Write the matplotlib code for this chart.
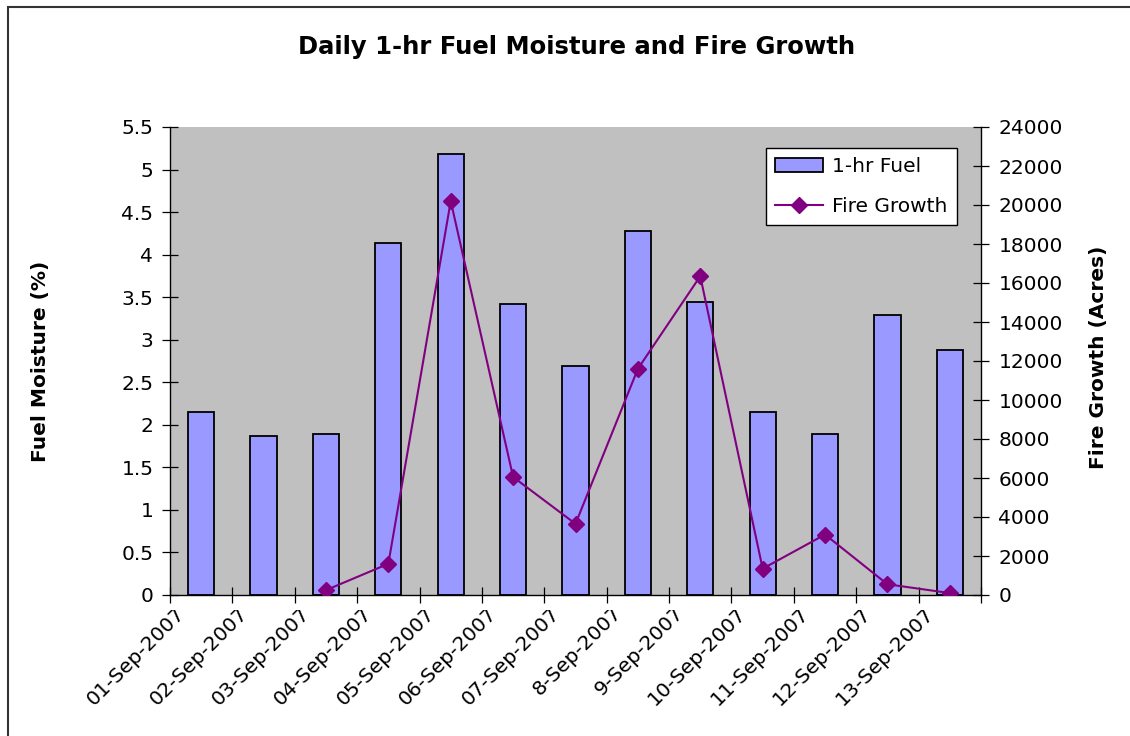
import numpy as np
import matplotlib
matplotlib.use("Agg")
import matplotlib.pyplot as plt
from matplotlib.patches import Rectangle
from matplotlib.transforms import ScaledTranslation, Bbox, TransformedBbox

dates = ["01-Sep-2007", "02-Sep-2007", "03-Sep-2007", "04-Sep-2007", "05-Sep-2007",
         "06-Sep-2007", "07-Sep-2007", "8-Sep-2007", "9-Sep-2007", "10-Sep-2007",
         "11-Sep-2007", "12-Sep-2007", "13-Sep-2007"]
fuel_moisture = [2.15, 1.87, 1.89, 4.14, 5.18, 3.42, 2.69, 4.28, 3.44, 2.15, 1.89, 3.29, 2.88]
fire_growth = [np.nan, np.nan, 250, 1600, 20200, 6050, 3650, 11600, 16350, 1350, 3100, 550, 100]
left_ticks = [0, 0.5, 1, 1.5, 2, 2.5, 3, 3.5, 4, 4.5, 5, 5.5]
left_tick_labels = ["0", "0.5", "1", "1.5", "2", "2.5", "3", "3.5", "4", "4.5", "5", "5.5"]
right_ticks = list(range(0, 24001, 2000))

plt.rcParams['font.family'] = ['DejaVu Sans']
FS = 14.5

W, H = 1130, 736
fig = plt.figure(figsize=(W / 100, H / 100), dpi=100)
fig.patch.set_facecolor("white")

ax = fig.add_axes([170 / W, 1 - 595 / H, 811 / W, 468 / H])
ax.set_facecolor("#C0C0C0")
x = np.arange(len(dates))
bars = ax.bar(x, fuel_moisture, width=0.42, color="#9999FF", edgecolor="black",
              linewidth=1.3, label="1-hr Fuel", zorder=2)
ax.set_xlim(-0.5, len(dates) - 0.5)
ax.set_ylim(0, 5.5)
ax.set_yticks(left_ticks)
ax.set_yticklabels(left_tick_labels)
ax.tick_params(axis="y", direction="inout", length=11, width=0.9, labelsize=FS, pad=6.5)

# x ticks: boundaries (major) and labels at category centers (minor)
ax.set_xticks(np.arange(-0.5, len(dates), 1.0))
ax.set_xticklabels([])
ax.set_xticks(x, minor=True)
ax.set_xticklabels(dates, minor=True, rotation=45, ha="right", va="top",
                   rotation_mode="anchor", fontsize=FS)
ax.tick_params(axis="x", which="major", direction="inout", length=11, width=0.9)
ax.tick_params(axis="x", which="minor", length=0, pad=6.0)

offset = ScaledTranslation(-26 / 100, 0, fig.dpi_scale_trans)
clipbox = TransformedBbox(Bbox.from_extents(0, 0, 1, 1 - 610 / H), fig.transFigure)
for lab in ax.get_xticklabels(minor=True):
    lab.set_transform(lab.get_transform() + offset)
    lab.set_clip_on(True)
    lab.set_clip_box(clipbox)

for s in ["top", "right"]:
    ax.spines[s].set_visible(False)
ax.spines["left"].set_linewidth(1.0)
ax.spines["bottom"].set_linewidth(1.0)

ax.set_ylabel("Fuel Moisture (%)", fontsize=FS, fontweight="bold", va="center")
ax.yaxis.set_label_coords(-0.160, 0.5)

ax2 = ax.twinx()
ax2.set_facecolor("none")
line, = ax2.plot(x, fire_growth, color="#800080", linewidth=1.5, marker="D",
                 markersize=8, markerfacecolor="#800080", markeredgecolor="#800080",
                 label="Fire Growth", zorder=3)
ax2.set_ylim(0, 24000)
ax2.set_yticks(right_ticks)
ax2.tick_params(axis="y", direction="inout", length=11, width=0.9, labelsize=FS, pad=7)
for s in ["top", "left", "bottom"]:
    ax2.spines[s].set_visible(False)
ax2.spines["right"].set_linewidth(1.0)
ax2.set_ylabel("Fire Growth (Acres)", fontsize=FS, fontweight="bold", va="center")
ax2.yaxis.set_label_coords(1.1443, 0.508)

leg = ax2.legend([bars, line], ["1-hr Fuel", "Fire Growth"], loc="upper right",
                 bbox_to_anchor=(0.970, 0.955), borderaxespad=0, fontsize=FS,
                 frameon=True, fancybox=False, edgecolor="black", framealpha=1,
                 handlelength=2.4, handletextpad=0.45, labelspacing=1.05, borderpad=0.45)
leg.get_frame().set_linewidth(1.0)

fig.text(577 / W, 1 - 47 / H, "Daily 1-hr Fuel Moisture and Fire Growth",
         fontsize=17.5, fontweight="bold", ha="center", va="center")

fig.patches.append(Rectangle((8 / W, -0.1), 2, 1 - 7 / H + 0.1, transform=fig.transFigure,
                             fill=False, edgecolor="#333333", linewidth=1.5))

fig.savefig("out.png", dpi=100)
